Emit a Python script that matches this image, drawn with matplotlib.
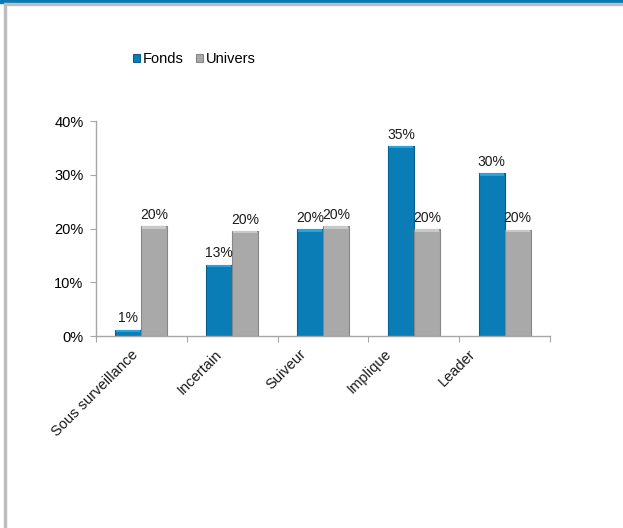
import matplotlib.pyplot as plt
import numpy as np
from matplotlib.patches import Rectangle
from matplotlib.transforms import ScaledTranslation

plt.rcParams['font.family'] = ['Liberation Sans', 'DejaVu Sans']

categories = ["Sous surveillance", "Incertain", "Suiveur", "Implique", "Leader"]
fonds = [1.2, 13.3, 19.9, 35.4, 30.3]
univers = [20.5, 19.6, 20.4, 19.9, 19.8]
yticks = [0, 10, 20, 30, 40]

BLUE = "#0a7cb6"
BLUE_EDGE = "#06608f"
BLUE_CAP = "#2aa3dc"
GREY = "#a9a9a9"
GREY_EDGE = "#868686"
GREY_CAP = "#c9c9c9"
AXIS = "#a6a6a6"

fig = plt.figure(figsize=(6.23, 5.28), dpi=100)
ax = fig.add_axes([0.154, 0.3636, 0.729, 0.4072])

x = np.arange(len(categories)) + 0.5
w = 0.286
cap = 0.5  # height of the light bevel strip on top of each bar


def draw_series(xs, vals, face, edge, top, label):
    bars = ax.bar(xs, vals, width=w, color=face, edgecolor=edge, linewidth=0.8,
                  label=label, zorder=2)
    caps = [min(cap, v) for v in vals]
    ax.bar(xs, caps, bottom=np.array(vals) - np.array(caps), width=w * 0.92,
           color=top, linewidth=0, zorder=3)
    for xi, v in zip(xs, vals):
        ax.annotate(f"{v:.0f}%", (xi, v), xytext=(0, 3), textcoords="offset points",
                    ha="center", va="bottom", fontsize=10, color="#1a1a1a")
    return bars


b1 = draw_series(x - w / 2, fonds, BLUE, BLUE_EDGE, BLUE_CAP, "Fonds")
b2 = draw_series(x + w / 2, univers, GREY, GREY_EDGE, GREY_CAP, "Univers")

ax.set_xlim(0, len(categories))
ax.set_ylim(0, 40)
ax.set_yticks(yticks)
ax.set_yticklabels([f"{t}%" for t in yticks], fontsize=10.5)
ax.set_xticks(np.arange(len(categories) + 1))
ax.set_xticklabels([])
ax.tick_params(axis="x", which="major", length=4, color=AXIS, direction="out")
ax.tick_params(axis="y", length=4, color=AXIS, direction="out", pad=5)

# slanted category names; they drift a little left of the group centres
# towards the right-hand side of the axis
for i, (xi, name) in enumerate(zip(x, categories)):
    offset = ScaledTranslation((-6 - 6.4 * i) / 100, -16 / 100, fig.dpi_scale_trans)
    ax.text(xi, 0, name, transform=ax.get_xaxis_transform() + offset,
            rotation=45, ha="right", va="center", rotation_mode="anchor",
            fontsize=10.5, color="#1a1a1a")

for s in ["top", "right"]:
    ax.spines[s].set_visible(False)
for s in ["left", "bottom"]:
    ax.spines[s].set_color(AXIS)
    ax.spines[s].set_linewidth(1.0)

fig.legend(handles=[b1, b2], labels=["Fonds", "Univers"], loc="center",
           bbox_to_anchor=(0.312, 0.888), ncol=2, frameon=False, fontsize=10.5,
           handlelength=0.48, handleheight=0.48, handletextpad=0.25, columnspacing=0.8)

# frame: blue band on top, thin grey rule beneath it and down the left side
fig.patches.append(Rectangle((0, 1 - 3 / 528), 1, 3 / 528, transform=fig.transFigure,
                             color="#0779b3", zorder=10))
fig.patches.append(Rectangle((0.0064, 1 - 5 / 528), 0.9936, 2 / 528,
                             transform=fig.transFigure, color="#bdbdbd", zorder=10))
fig.patches.append(Rectangle((4 / 623, 0), 2 / 623, 1 - 3 / 528,
                             transform=fig.transFigure, color="#bdbdbd", zorder=10))

fig.savefig("out.png", dpi=100)
